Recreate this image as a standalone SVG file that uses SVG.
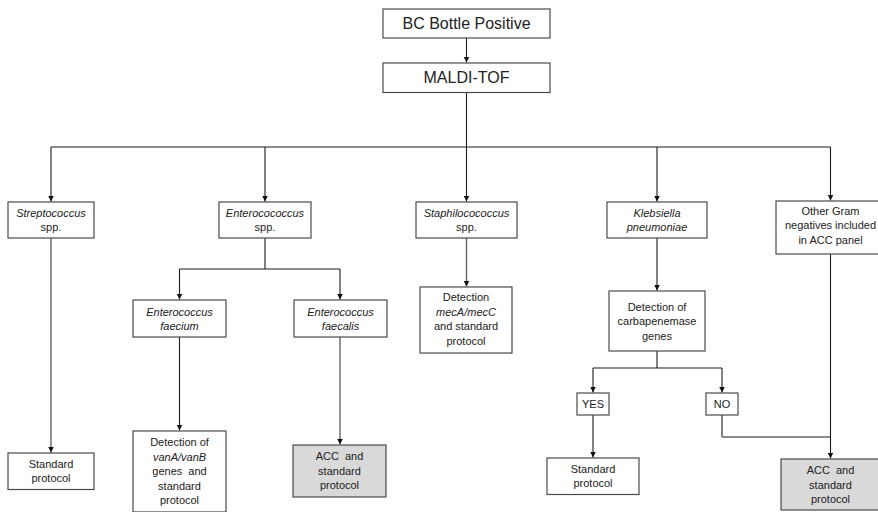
<svg xmlns="http://www.w3.org/2000/svg" width="878" height="512" viewBox="0 0 878 512">
<defs>
<marker id="ah" markerWidth="7" markerHeight="7" refX="6" refY="3" orient="auto" markerUnits="userSpaceOnUse">
<path d="M0,0 L6,3 L0,6 Z" fill="#111"/>
</marker>
<style>
.box{fill:#fff;stroke:#4a4a4a;stroke-width:1.2}
.grey{fill:#d9d9d9;stroke:#4a4a4a;stroke-width:1.2}
.t{font-family:"Liberation Sans",Arial,sans-serif;font-size:11px;fill:#222;text-anchor:middle}
.big{font-size:16px}
.i{font-style:italic}
.c{fill:none;stroke:#1a1a1a;stroke-width:1.1}
.cg{fill:none;stroke:#666;stroke-width:1.4}
.a{marker-end:url(#ah)}
</style>
</defs>
<rect width="878" height="512" fill="#fff"/>
<g id="connectors">
<path class="c a" d="M466.5,38 V62.5"/>
<path class="c" d="M466.5,92.5 V147 M51,147 H830.5"/>
<path class="c a" d="M51,147 V201.5"/>
<path class="c a" d="M265,147 V201.5"/>
<path class="c a" d="M466.5,147 V201.5"/>
<path class="c a" d="M657,147 V201.5"/>
<path class="c a" d="M830.5,147 V200.5"/>
<path class="cg a" d="M51,238 V452.5"/>
<path class="c" d="M265,238 V269 M179.5,269 H340"/>
<path class="c a" d="M179.5,269 V299.5"/>
<path class="c a" d="M340,269 V299.5"/>
<path class="c a" d="M179.5,337 V430.5"/>
<path class="cg a" d="M340,337 V444.5"/>
<path class="cg a" d="M466.5,238 V286.5"/>
<path class="c a" d="M657,238 V290.5"/>
<path class="c" d="M657,351 V368 M593,368 H722"/>
<path class="c a" d="M593,368 V392.5"/>
<path class="c a" d="M722,368 V392.5"/>
<path class="c a" d="M593,415 V457.5"/>
<path class="c" d="M722,415 V437"/>
<path class="cg" d="M722,437 H830.5"/>
<path class="c a" d="M830.5,254 V458.5"/>
</g>
<g id="bc-bottle">
<rect class="box" x="383" y="9" width="167" height="29"/>
<text class="t big" x="466.5" y="29">BC Bottle Positive</text>
</g>
<g id="maldi">
<rect class="box" x="383" y="63" width="167" height="29.5"/>
<text class="t big" x="466.5" y="83">MALDI-TOF</text>
</g>
<g id="strep">
<rect class="box" x="8" y="202" width="86" height="36"/>
<text class="t i" x="51" y="216.7">Streptococcus</text>
<text class="t" x="51" y="231.3">spp.</text>
</g>
<g id="entero">
<rect class="box" x="219" y="202" width="92" height="36"/>
<text class="t i" x="265" y="216.7">Enterocococcus</text>
<text class="t" x="265" y="231.3">spp.</text>
</g>
<g id="staph">
<rect class="box" x="416" y="202" width="101" height="36"/>
<text class="t i" x="466.5" y="216.7">Staphilocococcus</text>
<text class="t" x="466.5" y="231.3">spp.</text>
</g>
<g id="klebsiella">
<rect class="box" x="607" y="202" width="100" height="36"/>
<text class="t i" x="657" y="216.7">Klebsiella</text>
<text class="t i" x="657" y="231.3">pneumoniae</text>
</g>
<g id="other-gram">
<rect class="box" x="776" y="201" width="110" height="53"/>
<text class="t" x="830.5" y="214.5">Other Gram</text>
<text class="t" x="830.5" y="229">negatives included</text>
<text class="t" x="830.5" y="243.5">in ACC panel</text>
</g>
<g id="faecium">
<rect class="box" x="133" y="300" width="93" height="37"/>
<text class="t i" x="179.5" y="315.5">Enterococcus</text>
<text class="t i" x="179.5" y="330">faecium</text>
</g>
<g id="faecalis">
<rect class="box" x="294" y="300" width="93" height="37"/>
<text class="t i" x="340.5" y="315.5">Enterococcus</text>
<text class="t i" x="340.5" y="330">faecalis</text>
</g>
<g id="meca">
<rect class="box" x="420" y="287" width="92" height="66"/>
<text class="t" x="466" y="301.3">Detection</text>
<text class="t i" x="466" y="315.8">mecA/mecC</text>
<text class="t" x="466" y="330.3">and standard</text>
<text class="t" x="466" y="344.8">protocol</text>
</g>
<g id="carbapenemase">
<rect class="box" x="609" y="291" width="96" height="60"/>
<text class="t" x="657" y="310.5">Detection of</text>
<text class="t" x="657" y="325">carbapenemase</text>
<text class="t" x="657" y="339.5">genes</text>
</g>
<g id="strep-standard">
<rect class="box" x="8" y="453" width="86" height="36.5"/>
<text class="t" x="51" y="467.8">Standard</text>
<text class="t" x="51" y="482.3">protocol</text>
</g>
<g id="vana">
<rect class="box" x="133" y="431" width="93" height="81"/>
<text class="t" x="179.5" y="446">Detection of</text>
<text class="t i" x="179.5" y="460.6">vanA/vanB</text>
<text class="t" x="179.5" y="475.2" xml:space="preserve">genes  and</text>
<text class="t" x="179.5" y="489.8">standard</text>
<text class="t" x="179.5" y="504.4">protocol</text>
</g>
<g id="acc-faecalis">
<rect class="grey" x="293" y="445" width="93" height="52"/>
<text class="t" x="339.5" y="460" xml:space="preserve">ACC  and</text>
<text class="t" x="339.5" y="474.5">standard</text>
<text class="t" x="339.5" y="489">protocol</text>
</g>
<g id="yes">
<rect class="box" x="577" y="393" width="32" height="22"/>
<text class="t" x="593" y="408">YES</text>
</g>
<g id="no">
<rect class="box" x="706" y="393" width="32" height="22"/>
<text class="t" x="722" y="408">NO</text>
</g>
<g id="kleb-standard">
<rect class="box" x="547" y="458" width="92" height="36.5"/>
<text class="t" x="593" y="472.8">Standard</text>
<text class="t" x="593" y="487.3">protocol</text>
</g>
<g id="acc-other">
<rect class="grey" x="781" y="459" width="105" height="51"/>
<text class="t" x="830.5" y="474" xml:space="preserve">ACC  and</text>
<text class="t" x="830.5" y="488.5">standard</text>
<text class="t" x="830.5" y="503">protocol</text>
</g>
</svg>
